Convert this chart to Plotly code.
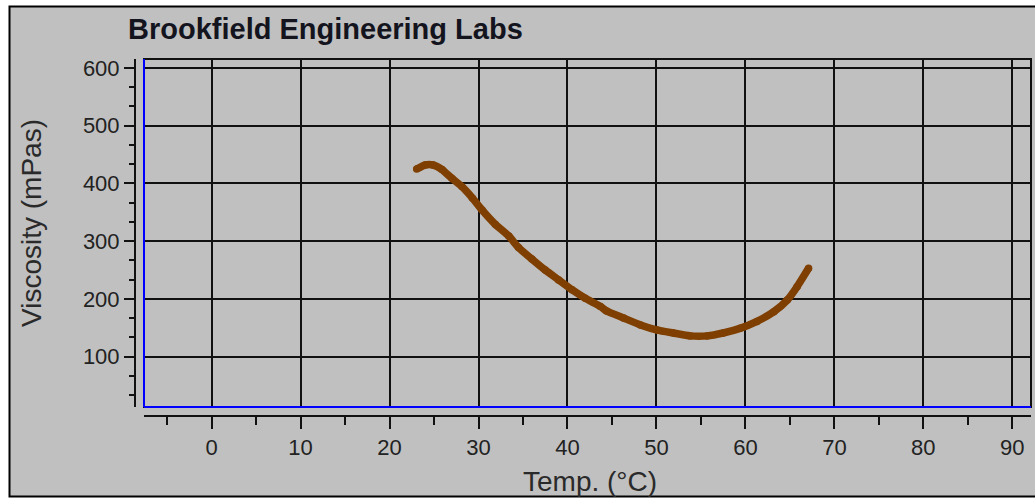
import plotly.graph_objects as go

# ---- data ----
temp_c = [23.05, 24.0, 24.9, 25.9, 27.0, 28.1, 29.3, 30.4, 31.9, 33.4, 34.5, 36.0,
          37.5, 39.0, 40.5, 42.0, 43.7, 44.4, 46.3, 48.2, 50.1, 51.9, 53.8, 55.7,
          57.5, 59.4, 61.3, 63.2, 64.7, 65.8, 67.1]
viscosity = [425, 432, 432, 424, 409, 395, 375, 354, 329, 309, 289, 269,
             250, 233, 216, 201, 187, 179, 167, 155, 146, 141, 136, 136,
             141, 149, 161, 178, 198, 221, 253]
x_ticks = [0, 10, 20, 30, 40, 50, 60, 70, 80, 90]
y_ticks = [100, 200, 300, 400, 500, 600]
x_range = [-7.6, 92.1]
y_range = [12.8, 615.6]

title_text = "Brookfield Engineering Labs"
x_title = "Temp. (°C)"
y_title = "Viscosity (mPas)"

# ---- layout geometry (page pixels) ----
W_FIG, H_FIG = 1035, 498
ML, MR, MT, MB = 130, 4, 59, 78
PW = W_FIG - ML - MR
PH = H_FIG - MT - MB


def px(x_page):
    return (x_page - ML) / PW


def py(y_page):
    return (H_FIG - MB - y_page) / PH


FONT = "Liberation Sans, Arial, sans-serif"
GRAY = "#C0C0C0"
GRID = "#111111"

fig = go.Figure()
fig.add_trace(go.Scatter(
    x=temp_c, y=viscosity, mode="lines+markers",
    line=dict(color="#7F3F00", width=7.5, shape="spline", smoothing=0.5),
    marker=dict(color="#7F3F00", size=7.5),
    showlegend=False, hoverinfo="skip"))
# empty trace to realise the offset axes
fig.add_trace(go.Scatter(x=[], y=[], xaxis="x2", yaxis="y2", showlegend=False))

x_dom = [px(144), 1.0]
y_dom = [py(407), 1.0]

fig.update_layout(
    width=W_FIG, height=H_FIG,
    margin=dict(l=ML, r=MR, t=MT, b=MB, pad=0),
    paper_bgcolor="white",
    plot_bgcolor=GRAY,
    font=dict(family=FONT, color="#222222"),
    xaxis=dict(domain=x_dom, range=x_range, tickvals=x_ticks, showticklabels=False,
               ticks="", showgrid=True, gridcolor=GRID, gridwidth=2,
               zeroline=False, showline=False, automargin=False),
    yaxis=dict(domain=y_dom, range=y_range, tickvals=y_ticks, showticklabels=False,
               ticks="", showgrid=True, gridcolor=GRID, gridwidth=2,
               zeroline=False, showline=False, automargin=False),
    xaxis2=dict(overlaying="x", anchor="free", position=py(416), domain=x_dom,
                range=x_range, tickvals=x_ticks, ticks="outside", ticklen=12,
                tickwidth=2, tickcolor=GRID, showline=True, linecolor=GRID,
                linewidth=2, showgrid=False, zeroline=False,
                tickfont=dict(size=22, color="#222222", family=FONT),
                minor=dict(dtick=5, tick0=0, ticks="outside", ticklen=8,
                           tickwidth=2, tickcolor=GRID, showgrid=False),
                automargin=False),
    yaxis2=dict(overlaying="y", anchor="free", position=px(135), side="left",
                domain=y_dom, range=y_range, tickvals=y_ticks, ticks="outside",
                ticklen=10, tickwidth=2, tickcolor=GRID, showline=True,
                linecolor=GRID, linewidth=2, showgrid=False, zeroline=False,
                tickfont=dict(size=22, color="#222222", family=FONT),
                minor=dict(dtick=100 / 3, tick0=0, ticks="outside", ticklen=5,
                           tickwidth=2, tickcolor=GRID, showgrid=False),
                automargin=False),
)

shapes = [
    # outer panel with black border
    dict(type="rect", xref="paper", yref="paper",
         x0=px(9.5), x1=px(1045), y0=py(496.5), y1=py(6.5),
         fillcolor=GRAY, line=dict(color="black", width=2), layer="below"),
    # plot-area frame
    dict(type="rect", xref="x domain", yref="y domain", x0=0, x1=1, y0=0, y1=1,
         line=dict(color=GRID, width=2), layer="above"),
    # blue left and bottom edges
    dict(type="line", xref="x domain", yref="y domain", x0=0, x1=0, y0=0, y1=1,
         line=dict(color="#0000FF", width=2), layer="above"),
    dict(type="line", xref="x domain", yref="y domain", x0=0, x1=1, y0=0, y1=0,
         line=dict(color="#0000FF", width=2), layer="above"),
]
fig.update_layout(shapes=shapes)

fig.add_annotation(text=f"<b>{title_text}</b>", xref="paper", yref="paper",
                   x=px(126), y=py(29), xanchor="left", yanchor="middle",
                   showarrow=False, font=dict(size=29, color="#14141e", family=FONT))
fig.add_annotation(text=x_title, xref="paper", yref="paper",
                   x=px(590), y=py(481), xanchor="center", yanchor="middle",
                   showarrow=False, font=dict(size=28, color="#2a2a2a", family=FONT))
fig.add_annotation(text=y_title, xref="paper", yref="paper",
                   x=px(31), y=py(223), xanchor="center", yanchor="middle",
                   textangle=-90, showarrow=False,
                   font=dict(size=28, color="#2a2a2a", family=FONT))

# remove the default page margin so the 1035x498 figure fills the window exactly
fig.write_html(
    "out.html",
    config={"displayModeBar": False},
    post_script=("document.body.style.margin='0';"
                 "document.documentElement.style.overflow='hidden';"),
)
